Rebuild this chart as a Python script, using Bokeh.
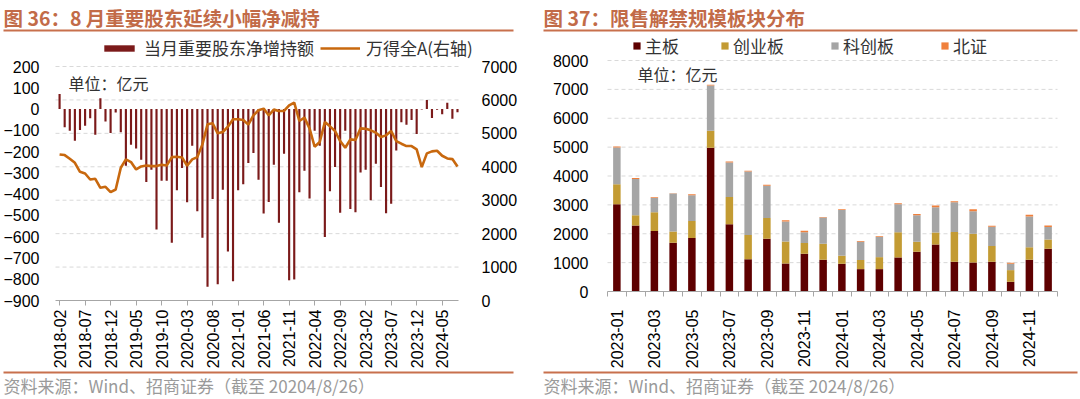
import math
from bokeh.plotting import figure
from bokeh.models import (Range1d, LinearAxis, FixedTicker, Label, Legend,
                          LegendItem, BoxAnnotation, ColumnDataSource)
from bokeh.layouts import row
from bokeh.embed import file_html
from bokeh.resources import INLINE

# ---------------- data: left panel ----------------
left_months = [f"{y}-{m:02d}" for y in range(2018, 2025) for m in range(1, 13)]
left_months = left_months[left_months.index("2018-02"):left_months.index("2024-08") + 1]

net_holdings = [71, -85, -102, -149, -98, -79, -43, -121, 51, -59,
                -113, -16, -109, -266, -168, -185, -238, -343, -285, -566,
                -337, -337, -629, -382, -277, -438, -173, -480, -605, -835,
                -423, -824, -379, -670, -809, -382, -353, -254, -207, -332,
                -491, -437, -262, -535, -210, -805, -801, -391, -290, -421,
                -102, -173, -601, -387, -273, -488, -102, -470, -485, -298,
                -285, -429, -257, -366, -490, -445, -195, -62, -74, -51,
                -117, -2, 43, -42, -3, -25, 30, -46, -15]

wind_a = [4370, 4350, 4240, 4120, 3850, 3800, 3620, 3640, 3370, 3400,
          3240, 3320, 3970, 4220, 4140, 3920, 4010, 4040, 4020, 4020,
          4060, 4040, 4290, 4300, 4280, 4030, 4220, 4290, 4670, 5270,
          5300, 5000, 5040, 5200, 5420, 5420, 5400, 5260, 5540, 5690,
          5740, 5540, 5710, 5670, 5670, 5840, 5920, 5370, 5470, 5150,
          4600, 4740, 5340, 5210, 5070, 4770, 4570, 4820, 4800, 5150,
          5140, 5090, 5020, 4890, 4940, 5070, 4770, 4690, 4620, 4620,
          4520, 3990, 4400, 4460, 4480, 4330, 4250, 4230, 4010]

left_ticks = list(range(-900, 201, 100))
right_ticks = list(range(0, 7001, 1000))

# ---------------- data: right panel ----------------
right_months = [f"{y}-{m:02d}" for y in (2023, 2024) for m in range(1, 13)]
main_board = [3020, 2290, 2095, 1690, 1850, 4980, 2325, 1120, 1830, 970, 1310, 1100,
              960, 775, 775, 1180, 1380, 1630, 1030, 1005, 1030, 335, 1100, 1480]
chinext = [695, 350, 650, 390, 590, 590, 950, 835, 715, 765, 370, 555,
           280, 315, 415, 870, 345, 410, 1030, 995, 545, 405, 430, 325]
star = [1275, 1260, 495, 1310, 890, 1560, 1195, 2200, 1115, 685, 370, 905,
        1585, 635, 700, 970, 915, 875, 1030, 780, 670, 220, 1070, 430]
bse = [30, 35, 25, 10, 40, 30, 30, 25, 40, 45, 55, 20,
       25, 25, 20, 35, 45, 60, 35, 70, 35, 35, 60, 55]
stack_ticks = list(range(0, 8001, 1000))

CJK = "Noto Sans CJK SC"
NUM = "Liberation Sans"
TITLE_C = "#C26B48"
RULE_C = "#C8704D"
GRID_C = "#D9D9D9"
AXIS_C = "#A6A6A6"

PAGE_Y0 = 0
H = 398
PAGE_Y1 = PAGE_Y0 + H


def span_range(d0, d1, p0, p1, page0, page1, invert=False):
    """Range whose data d0..d1 sits at page pixels p0..p1 for a canvas page0..page1."""
    k = (p1 - p0) / (d1 - d0)
    if not invert:
        return Range1d(d0 - (p0 - page0) / k, d1 + (page1 - p1) / k)
    # vertical: p0 is top pixel (data d1), p1 bottom pixel (data d0)
    return Range1d(d0 - (page1 - p1) / k, d1 + (p0 - page0) / k)


def make_fig(width, xr, yr):
    p = figure(width=width, height=H, x_range=xr, y_range=yr, output_backend="svg",
               toolbar_location=None, min_border=0, min_border_left=0, min_border_right=0,
               min_border_top=0, min_border_bottom=0)
    p.outline_line_color = None
    p.xgrid.visible = False
    p.ygrid.visible = False
    return p


def deco(p, page_x0, title, source, rule_x0, rule_x1):
    def sx(px):
        return px - page_x0

    def sy(py):
        return PAGE_Y1 - py
    p.add_layout(Label(x=sx(rule_x0), y=sy(17), x_units="screen", y_units="screen",
                       text=title, text_font=CJK, text_font_size="19.5px",
                       text_font_style="bold", text_color=TITLE_C, text_baseline="middle"))
    for yt in (29, 371):
        p.add_layout(BoxAnnotation(left=sx(rule_x0), right=sx(rule_x1), bottom=sy(yt + 2), top=sy(yt),
                                   left_units="screen", right_units="screen",
                                   bottom_units="screen", top_units="screen",
                                   fill_color=RULE_C, fill_alpha=1, line_color=None))
    p.add_layout(Label(x=sx(rule_x0), y=sy(385), x_units="screen", y_units="screen",
                       text=source, text_font=CJK, text_font_size="17px",
                       text_color="#9A9A9A", text_baseline="middle"))


def style_axis(ax, size="16px"):
    ax.major_label_text_font = NUM
    ax.major_label_text_font_size = size
    ax.major_label_text_color = "#000000"


common_leg = dict(border_line_color=None, background_fill_alpha=0, padding=0, margin=0,
                  label_text_font=CJK, label_text_color="#333333",
                  orientation="horizontal", label_height=18)

# ================= left figure =================
LX0, LW = 0, 540
l_x = span_range(-0.8, 78.2, 55, 458, LX0, LX0 + LW)
l_y = span_range(-900, 200, 66, 300, PAGE_Y0, PAGE_Y1, invert=True)
l_y2 = span_range(0, 7000, 66, 300, PAGE_Y0, PAGE_Y1, invert=True)
p1 = make_fig(LW, l_x, l_y)
p1.extra_y_ranges = {"right": l_y2}

xi = list(range(len(left_months)))
p1.segment(x0=-0.8, x1=78.2, y0=right_ticks[1:], y1=right_ticks[1:], y_range_name="right",
           line_color=GRID_C, line_dash="4 3", line_width=1)
bars = p1.vbar(x=xi, top=net_holdings, bottom=0, width=0.42,
               fill_color="#7B1A1A", line_color=None)
line = p1.line(x=xi, y=wind_a, y_range_name="right", line_color="#C8680E", line_width=2.6)

xa = p1.xaxis[0]
xa.fixed_location = -900
xa.bounds = (-0.8, 78.2)
xa.ticker = FixedTicker(ticks=list(range(0, len(left_months), 5)), minor_ticks=[])
xa.major_label_overrides = {i: left_months[i] for i in range(0, len(left_months), 5)}
xa.major_label_orientation = math.pi / 2
xa.axis_line_color = AXIS_C
xa.major_tick_line_color = AXIS_C
xa.major_tick_out = 5
xa.major_tick_in = 0
xa.minor_tick_line_color = None
xa.major_label_standoff = 4
style_axis(xa)

ya = p1.yaxis[0]
ya.fixed_location = -0.8
ya.ticker = FixedTicker(ticks=left_ticks, minor_ticks=[])
ya.axis_line_color = None
ya.major_tick_line_color = None
ya.minor_tick_line_color = None
ya.major_label_standoff = 10
style_axis(ya)

ra = LinearAxis(y_range_name="right", ticker=FixedTicker(ticks=right_ticks, minor_ticks=[]),
                axis_line_color=None, major_tick_line_color=None, minor_tick_line_color=None,
                major_label_standoff=17, fixed_location=78.2)
style_axis(ra)
p1.add_layout(ra, "right")

p1.add_layout(Legend(items=[LegendItem(label="当月重要股东净增持额", renderers=[bars])],
                     location=(100 - LX0, PAGE_Y1 - 60), glyph_width=38, glyph_height=8,
                     label_standoff=6, label_text_font_size="17px", **common_leg))
p1.add_layout(Legend(items=[LegendItem(label="万得全A(右轴)", renderers=[line])],
                     location=(320 - LX0, PAGE_Y1 - 60), glyph_width=40, glyph_height=8,
                     label_standoff=6, label_text_font_size="17px", **common_leg))
p1.add_layout(Label(x=68 - LX0, y=PAGE_Y1 - 82, x_units="screen", y_units="screen",
                    text="单位：亿元", text_font=CJK, text_font_size="16px",
                    text_color="#333333", text_baseline="middle"))
deco(p1, LX0, "图 36：8 月重要股东延续小幅净减持",
     "资料来源：Wind、招商证券（截至 20204/8/26）", 3, 513)

# ================= right figure =================
RX0, RW = 540, 539
r_x = span_range(-0.5, 23.5, 607, 1057, RX0, RX0 + RW)
r_y = span_range(0, 8000, 60, 291, PAGE_Y0, PAGE_Y1, invert=True)
p2 = make_fig(RW, r_x, r_y)

src = ColumnDataSource(dict(x=list(range(len(right_months))), main=main_board,
                            gem=chinext, star=star, bse=bse))
p2.segment(x0=-0.5, x1=23.5, y0=stack_ticks[1:], y1=stack_ticks[1:],
           line_color=GRID_C, line_dash="4 3", line_width=1)
colors = ["#5E0000", "#C39B33", "#A5A5A5", "#F0803C"]
names = ["主板", "创业板", "科创板", "北证"]
rs = p2.vbar_stack(["main", "gem", "star", "bse"], x="x", width=0.4, source=src,
                   fill_color=colors, line_color=None)

xb = p2.xaxis[0]
xb.fixed_location = 0
xb.bounds = (-0.5, 23.5)
xb.ticker = FixedTicker(ticks=list(range(0, 24, 2)),
                        minor_ticks=[i - 0.5 for i in range(25)])
xb.major_label_overrides = {i: right_months[i] for i in range(0, 24, 2)}
xb.major_label_orientation = math.pi / 2
xb.axis_line_color = AXIS_C
xb.major_tick_line_color = None
xb.major_tick_out = 0
xb.major_tick_in = 0
xb.minor_tick_line_color = AXIS_C
xb.minor_tick_out = 5
xb.minor_tick_in = 0
xb.major_label_standoff = 13
style_axis(xb)

yb = p2.yaxis[0]
yb.fixed_location = -0.5
yb.ticker = FixedTicker(ticks=stack_ticks, minor_ticks=[])
yb.axis_line_color = None
yb.major_tick_line_color = None
yb.minor_tick_line_color = None
yb.major_label_standoff = 13
style_axis(yb)

for r, nm, lx in zip(rs, names, [632, 720, 830, 940]):
    p2.add_layout(Legend(items=[LegendItem(label=nm, renderers=[r])],
                         location=(lx - RX0, PAGE_Y1 - 58), glyph_width=9, glyph_height=9,
                         label_standoff=4, label_text_font_size="17px", **common_leg))
p2.add_layout(Label(x=637 - RX0, y=PAGE_Y1 - 73, x_units="screen", y_units="screen",
                    text="单位：亿元", text_font=CJK, text_font_size="16px",
                    text_color="#333333", text_baseline="middle"))
deco(p2, RX0, "图 37：限售解禁规模板块分布",
     "资料来源：Wind、招商证券（截至 2024/8/26）", 543, 1077)

layout = row(p1, p2, spacing=0)
open("out.html", "w").write(file_html(layout, INLINE))
